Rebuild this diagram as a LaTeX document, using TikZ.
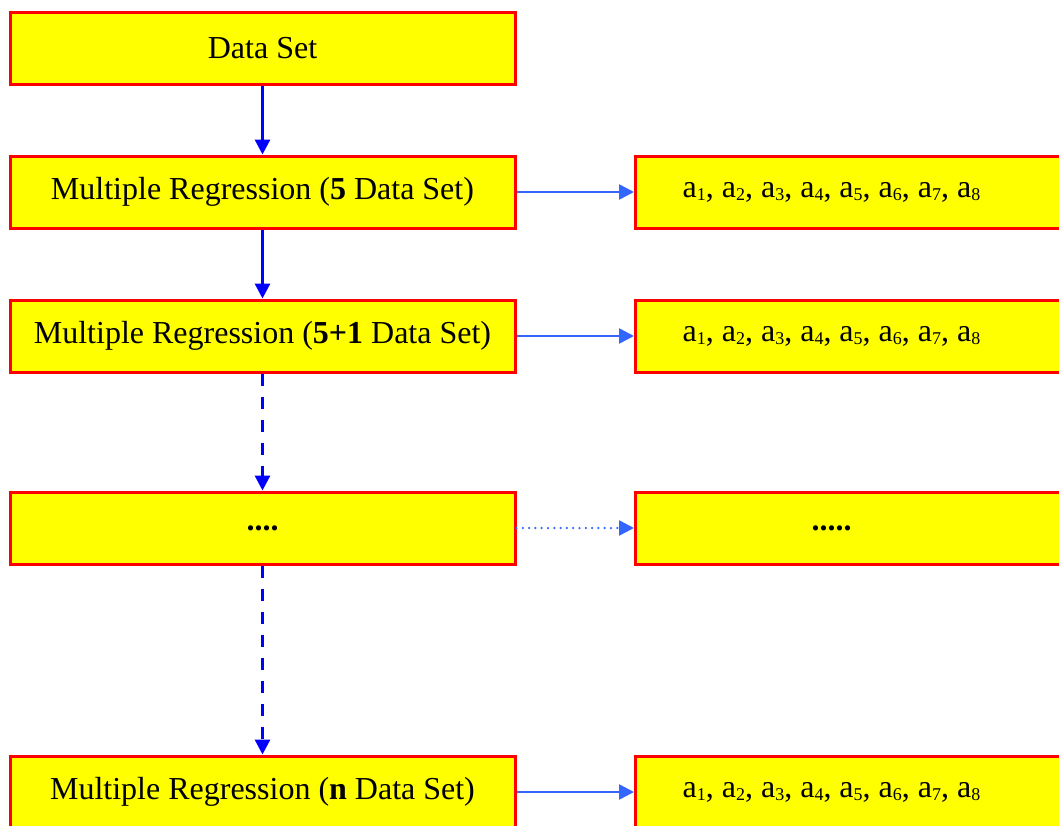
\documentclass[tikz,border=0pt]{standalone}
\usepackage{fontspec}
\setmainfont{Liberation Serif}
\usetikzlibrary{arrows.meta}
\definecolor{boxred}{RGB}{255,0,0}
\definecolor{boxyellow}{RGB}{255,255,0}
\definecolor{vblue}{RGB}{0,0,255}
\definecolor{hblue}{RGB}{51,102,255}
\newcommand\mysub[1]{\raisebox{-3pt}{\fontsize{18}{18}\selectfont #1}}
\newcommand\coefs{a\mysub{1}, a\mysub{2}, a\mysub{3}, a\mysub{4}, a\mysub{5}, a\mysub{6}, a\mysub{7}, a\mysub{8}}
\begin{document}
\begin{tikzpicture}[x=1pt,y=1pt,
  lbox/.style={draw=boxred,fill=boxyellow,line width=3pt,minimum width=505pt,minimum height=72pt,inner sep=0pt,font=\fontsize{32}{36}\selectfont},
  rbox/.style={draw=boxred,fill=boxyellow,line width=3pt,minimum width=440pt,minimum height=72pt,inner sep=0pt,anchor=west,font=\fontsize{32}{36}\selectfont},
  varrow/.style={draw=vblue,line width=3pt,-{Triangle[length=15pt,width=15pt]}},
  vdash/.style={varrow,dash pattern=on 12pt off 11pt},
  harrow/.style={draw=hblue,line width=2.5pt,-{Triangle[length=15pt,width=15pt]}},
  hdot/.style={harrow,line cap=round,dash pattern=on 0pt off 6.3pt}
]
\useasboundingbox (0,0) rectangle (1059,-825);
\clip (0,0) rectangle (1059,-825);
\node[lbox] (d) at (262.5,-48) {Data Set};
\node[lbox] (m1) at (262.5,-192) {Multiple Regression (\textbf{5} Data Set)};
\node[lbox] (m2) at (262.5,-336) {Multiple Regression (\textbf{5+1} Data Set)};
\node[lbox] (m3) at (262.5,-528) {\textbf{....}};
\node[lbox] (m4) at (262.5,-792) {Multiple Regression (\textbf{n} Data Set)};
\node[rbox] (r1) at (634,-192) {\hspace*{-48pt}\coefs};
\node[rbox] (r2) at (634,-336) {\hspace*{-48pt}\coefs};
\node[rbox] (r3) at (634,-528) {\hspace*{-48pt}\textbf{.....}};
\node[rbox] (r4) at (634,-792) {\hspace*{-48pt}\coefs};
\draw[varrow] (d.south) -- (m1.north);
\draw[varrow] (m1.south) -- (m2.north);
\draw[vdash] (m2.south) -- (m3.north);
\draw[vdash] (m3.south) -- (m4.north);
\draw[harrow] (m1.east) -- (r1.west);
\draw[harrow] (m2.east) -- (r2.west);
\draw[hdot] (m3.east) -- (r3.west);
\draw[harrow] (m4.east) -- (r4.west);
\end{tikzpicture}
\end{document}
